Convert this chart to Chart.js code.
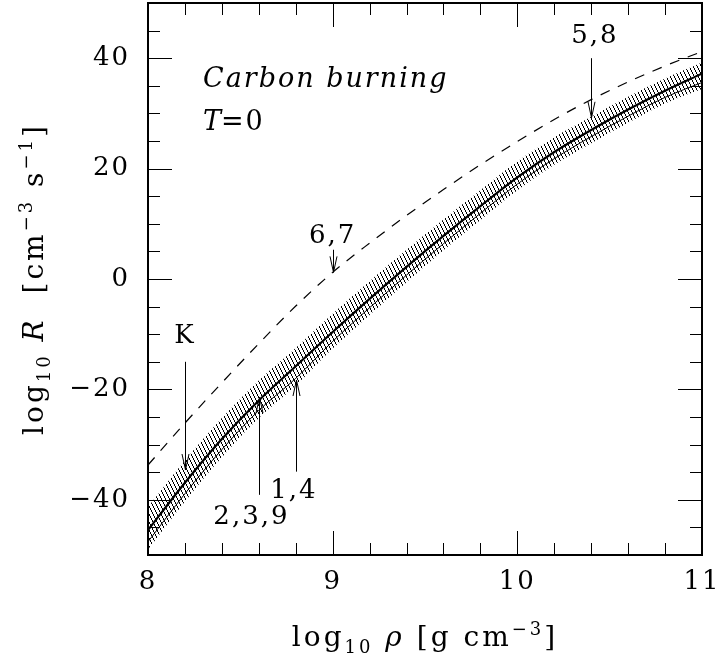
<!DOCTYPE html>
<html>
<head>
<meta charset="utf-8">
<script src="https://cdn.jsdelivr.net/npm/chart.js@4.4.0/dist/chart.umd.min.js"></script>
<style>
body { margin: 0; background: #fff; }
#wrap { width: 722px; height: 666px; }
</style>
</head>
<body>
<div id="wrap"><canvas id="chart" width="722" height="666"></canvas></div>
<script>
// log10 rho grid and the curves
var logRho = [8.0, 8.2, 8.4, 8.6, 8.8, 9.0, 9.2, 9.4, 9.6, 9.8, 10.0, 10.2, 10.4, 10.6, 10.8, 11.0];
var rateDashed = [-33.7, -26.1, -18.8, -11.7, -4.9, 1.2, 6.5, 11.5, 16.2, 20.7, 24.9, 28.9, 32.5, 35.7, 38.6, 41.2];
var bandTop = [-41.3, -32.9, -25.2, -18.4, -12.5, -6.3, -0.4, 5.3, 10.8, 16.1, 21.3, 25.7, 29.4, 33.0, 36.3, 39.2];
var rateSolid = [-45.5, -36.9, -29.0, -22.0, -15.8, -9.6, -3.6, 2.2, 7.8, 13.2, 18.4, 23.0, 27.0, 30.7, 34.1, 37.2];
var rateLower = [-47.6, -38.9, -30.9, -23.8, -18.0, -11.3, -5.2, 0.7, 6.4, 11.9, 17.2, 21.8, 25.8, 29.5, 32.9, 35.6];
var lowerEdge = [-49.0, -40.3, -32.3, -25.2, -19.3, -12.6, -6.5, -0.6, 5.2, 10.7, 16.1, 20.7, 24.6, 28.3, 31.8, 34.4];

var xTicks = [8, 9, 10, 11];
var yTicks = [-40, -20, 0, 20, 40];

// arrows and their labels (data coords)
var arrowX = [8.2, 9.0, 10.4, 8.8, 8.6];
var arrowFrom = [-15.0, 5.3, 40.0, -34.9, -39.1];
var arrowTo = [-34.6, 1.2, 29.2, -18.3, -21.4];
var labelText = ['K', '6,7', '5,8', '1,4', '2,3,9'];
var labelX = [8.2, 9.0, 10.42, 8.79, 8.56];
var labelY = [-10.3, 7.8, 44.0, -38.4, -43.1];

var SERIF = "'DejaVu Serif', 'Liberation Serif', serif";
Chart.defaults.font.family = SERIF;
Chart.defaults.font.size = 26;
Chart.defaults.color = '#000';

// steep "\" hatching
function hatch() {
    var c = document.createElement('canvas');
    c.width = 4; c.height = 8;
    var g = c.getContext('2d');
    g.fillStyle = '#000';
    for (var y = 0; y < 8; y++) g.fillRect(Math.floor(y / 2), y, 1, 1);
    return g.createPattern(c, 'repeat');
}

function pts(arr) {
    return logRho.map(function(x, i) { return {x: x, y: arr[i]}; });
}

function drawRich(ctx, parts, x, y) {
    var w = 0;
    parts.forEach(function(p) { ctx.font = p.font; w += ctx.measureText(p.t).width; });
    var cx = x - w / 2;
    parts.forEach(function(p) {
        ctx.font = p.font;
        ctx.fillText(p.t, cx, y + (p.dy || 0));
        cx += ctx.measureText(p.t).width;
    });
}

var rm = '28px ' + SERIF, it = 'italic 28px ' + SERIF, sm = '18px ' + SERIF;

function noPad(s) { s.paddingTop = 0; s.paddingBottom = 0; s.paddingLeft = 0; s.paddingRight = 0; }

var decor = {
    id: 'decor',
    beforeUpdate: function(chart) { chart.ctx.letterSpacing = '2px'; },
    beforeDraw: function(chart) { chart.ctx.letterSpacing = '2px'; },
    afterDatasetsDraw: function(chart) {
        var ctx = chart.ctx, a = chart.chartArea, xs = chart.scales.x, ys = chart.scales.y;
        ctx.save();
        ctx.strokeStyle = '#000';
        ctx.lineWidth = 1;
        ctx.beginPath();
        for (var i = 0; i <= 15; i++) {
            var px = Math.round(xs.getPixelForValue(8 + i * 0.2)) + 0.5;
            var L = (i % 5 === 0) ? 24 : 12;
            ctx.moveTo(px, a.bottom); ctx.lineTo(px, a.bottom - L);
            ctx.moveTo(px, a.top); ctx.lineTo(px, a.top + L);
        }
        for (var j = 0; j <= 20; j++) {
            var v = -50 + j * 5;
            var py = Math.round(ys.getPixelForValue(v)) + 0.5;
            var L2 = (v % 20 === 0) ? 24 : 12;
            ctx.moveTo(a.left, py); ctx.lineTo(a.left + L2, py);
            ctx.moveTo(a.right, py); ctx.lineTo(a.right - L2, py);
        }
        ctx.stroke();

        ctx.lineWidth = 2;
        ctx.strokeRect(a.left, a.top, a.right - a.left, a.bottom - a.top);

        // arrows
        ctx.lineWidth = 1;
        for (var k = 0; k < arrowX.length; k++) {
            var ax = Math.round(xs.getPixelForValue(arrowX[k])) + 0.5;
            var y0 = ys.getPixelForValue(arrowFrom[k]);
            var y1 = ys.getPixelForValue(arrowTo[k]);
            var d = y1 > y0 ? 1 : -1;
            ctx.beginPath();
            ctx.moveTo(ax, y0); ctx.lineTo(ax, y1);
            ctx.moveTo(ax - 3.5, y1 - d * 16); ctx.lineTo(ax, y1); ctx.lineTo(ax + 3.5, y1 - d * 16);
            ctx.stroke();
        }

        ctx.fillStyle = '#000';
        ctx.textBaseline = 'middle';
        ctx.textAlign = 'center';
        ctx.font = '26px ' + SERIF;
        for (var m = 0; m < labelText.length; m++) {
            ctx.fillText(labelText[m], xs.getPixelForValue(labelX[m]), ys.getPixelForValue(labelY[m]));
        }

        ctx.textAlign = 'left';
        ctx.textBaseline = 'alphabetic';
        ctx.font = 'italic 27px ' + SERIF;
        ctx.fillText('Carbon burning', a.left + 55, a.top + 84);
        ctx.fillText('T', a.left + 55, a.top + 127);
        ctx.font = '27px ' + SERIF;
        ctx.fillText('=0', a.left + 73, a.top + 127);

        // axis titles
        ctx.letterSpacing = '3px';
        drawRich(ctx, [
            {t: 'log', font: rm}, {t: '10', font: sm, dy: 7}, {t: ' ', font: rm},
            {t: '\u03c1', font: it}, {t: ' [g cm', font: rm}, {t: '\u22123', font: sm, dy: -11},
            {t: ']', font: rm}
        ], (a.left + a.right) / 2, 646);

        ctx.translate(43, (a.top + a.bottom) / 2);
        ctx.rotate(-Math.PI / 2);
        drawRich(ctx, [
            {t: 'log', font: rm}, {t: '10', font: sm, dy: 7}, {t: ' ', font: rm},
            {t: 'R', font: it}, {t: '  [cm', font: rm}, {t: '\u22123', font: sm, dy: -11},
            {t: ' s', font: rm}, {t: '\u22121', font: sm, dy: -11}, {t: ']', font: rm}
        ], 0, 0);
        ctx.restore();
    }
};

var mono = 'monotone';
new Chart(document.getElementById('chart').getContext('2d'), {
    type: 'line',
    data: {
        datasets: [
            {data: pts(bandTop), borderWidth: 0, pointRadius: 0, fill: '+1', backgroundColor: hatch(), cubicInterpolationMode: mono},
            {data: pts(rateSolid), borderColor: '#000', borderWidth: 2.2, pointRadius: 0, fill: '+2', backgroundColor: hatch(), cubicInterpolationMode: mono},
            {data: pts(rateLower), borderColor: '#000', borderWidth: 1, pointRadius: 0, fill: false, cubicInterpolationMode: mono},
            {data: pts(lowerEdge), borderWidth: 0, pointRadius: 0, fill: false, cubicInterpolationMode: mono},
            {data: pts(rateDashed), borderColor: '#000', borderWidth: 1.2, borderDash: [10, 9], pointRadius: 0, fill: false, cubicInterpolationMode: mono}
        ]
    },
    options: {
        responsive: false,
        animation: false,
        layout: {padding: {top: 3, right: 20, left: 0, bottom: 0}},
        plugins: {legend: {display: false}, tooltip: {enabled: false}},
        scales: {
            x: {
                type: 'linear', min: 8, max: 11,
                grid: {display: false, drawTicks: false},
                border: {display: false},
                ticks: {padding: 12, callback: function(v) { return String(v); }},
                afterBuildTicks: function(s) { s.ticks = xTicks.map(function(v) { return {value: v}; }); },
                afterFit: function(s) { s.height = 111; noPad(s); }
            },
            y: {
                type: 'linear', min: -50, max: 50,
                grid: {display: false, drawTicks: false},
                border: {display: false},
                ticks: {padding: 18, callback: function(v) { return v < 0 ? '\u2212' + Math.abs(v) : String(v); }},
                afterBuildTicks: function(s) { s.ticks = yTicks.map(function(v) { return {value: v}; }); },
                afterFit: function(s) { s.width = 148; noPad(s); }
            }
        }
    },
    plugins: [decor]
});
</script>
</body>
</html>
